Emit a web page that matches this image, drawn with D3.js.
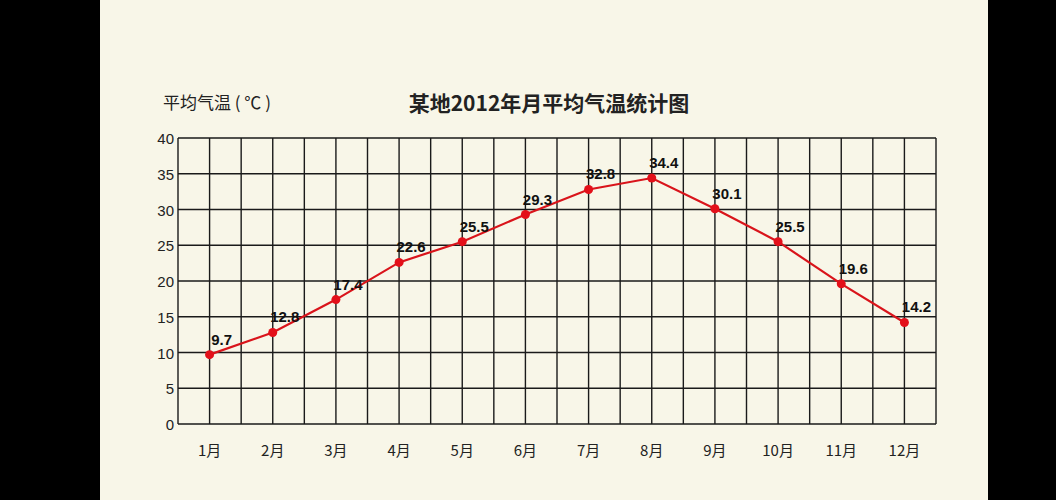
<!DOCTYPE html>
<html><head><meta charset="utf-8">
<script src="https://cdn.jsdelivr.net/npm/d3@7"></script>
<style>body{margin:0;background:#000}svg{display:block}</style>
</head><body>
<script>
// monthly data
var months = ["1月","2月","3月","4月","5月","6月","7月","8月","9月","10月","11月","12月"]
var temps = [9.7, 12.8, 17.4, 22.6, 25.5, 29.3, 32.8, 34.4, 30.1, 25.5, 19.6, 14.2]
var yTicks = [0, 5, 10, 15, 20, 25, 30, 35, 40]

var W = 1056, H = 500
var pLeft = 178, pRight = 936, pTop = 138, pBottom = 424
var cjk = "'Noto Sans CJK SC', sans-serif"

var svg = d3.select("body").append("svg").attr("width", W).attr("height", H)
svg.append("rect").attr("width", W).attr("height", H).attr("fill", "#000")
svg.append("rect").attr("x", 100).attr("width", 888).attr("height", H).attr("fill", "#f8f6e8")

// half-month columns: month i sits at 2i+1
var x = d3.scaleLinear().domain([0, 24]).range([pLeft, pRight])
var y = d3.scaleLinear().domain([0, 40]).range([pBottom, pTop])

var grid = svg.append("g").attr("stroke", "#1a1a1a").attr("stroke-width", 1.4)
grid.selectAll(".v").data(d3.range(25)).enter().append("line")
  .attr("x1", x).attr("x2", x).attr("y1", pTop).attr("y2", pBottom)
grid.selectAll(".h").data(yTicks).enter().append("line")
  .attr("x1", pLeft).attr("x2", pRight).attr("y1", y).attr("y2", y)

svg.selectAll(".yt").data(yTicks).enter().append("text")
  .attr("x", pLeft - 4).attr("y", function(d){ return y(d) + 6 })
  .attr("text-anchor", "end").attr("font-family", "Arial, 'Liberation Sans', sans-serif")
  .attr("font-size", 15).attr("fill", "#222").text(function(d){ return d })

svg.selectAll(".xt").data(months).enter().append("text")
  .attr("x", function(d, i){ return x(2 * i + 1) }).attr("y", pBottom + 32)
  .attr("text-anchor", "middle").attr("font-family", cjk)
  .attr("font-size", 15).attr("fill", "#222").text(function(d){ return d })

var line = d3.line().x(function(d, i){ return x(2 * i + 1) }).y(function(d){ return y(d) })
svg.append("path").datum(temps).attr("d", line).attr("fill", "none")
  .attr("stroke", "#d9141b").attr("stroke-width", 2.2)
svg.selectAll(".pt").data(temps).enter().append("circle")
  .attr("cx", function(d, i){ return x(2 * i + 1) }).attr("cy", y)
  .attr("r", 4.5).attr("fill", "#e3101a")
svg.selectAll(".lb").data(temps).enter().append("text")
  .attr("x", function(d, i){ return x(2 * i + 1) + 12 }).attr("y", function(d){ return y(d) - 10 })
  .attr("text-anchor", "middle").attr("font-family", "Arial, 'Liberation Sans', sans-serif")
  .attr("font-weight", "bold").attr("font-size", 15).attr("fill", "#111")
  .text(function(d){ return d.toFixed(1) })

svg.append("text").attr("x", 163).attr("y", 109).attr("font-family", cjk)
  .attr("font-size", 17).attr("fill", "#222").text("平均气温 ( ℃ )")
svg.append("text").attr("x", 549).attr("y", 111).attr("text-anchor", "middle")
  .attr("font-family", cjk).attr("font-weight", "bold")
  .attr("font-size", 21).attr("fill", "#222").text("某地2012年月平均气温统计图")
</script>
</body></html>
